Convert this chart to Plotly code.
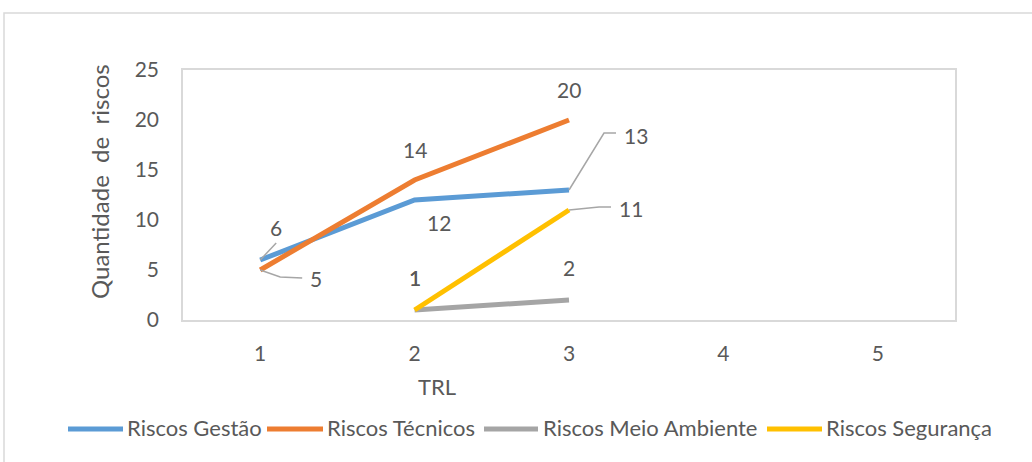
import plotly.graph_objects as go

categories = ["1", "2", "3", "4", "5"]
gestao = [6, 12, 13, None, None]
tecnicos = [5, 14, 20, None, None]
meio_ambiente = [None, 1, 2, None, None]
seguranca = [None, 1, 11, None, None]
y_ticks = [0, 5, 10, 15, 20, 25]

names = ["Riscos Gestão", "Riscos Técnicos", "Riscos Meio Ambiente", "Riscos Segurança"]
colors = ["#5B9BD5", "#ED7D31", "#A5A5A5", "#FFC000"]
series = [gestao, tecnicos, meio_ambiente, seguranca]

FONT = "Lato"
TXT = "#595959"
FS = 21
W, H = 1032, 462
L, R, T, B = 183, 955, 70, 320

fig = go.Figure()
for name, col, vals in zip(names, colors, series):
    fig.add_trace(go.Scatter(x=categories, y=vals, mode="lines", name=name,
                             line=dict(color=col, width=5), showlegend=False,
                             connectgaps=False))

# label placement per series / point index: (xshift, yshift, leader path or None)
label_style = {
    (0, 0): (16, 33, "M0,0 L16,17"),
    (0, 1): (24, -22, None),
    (0, 2): (67, 55, "M0,0 L35,57 L47,57"),
    (1, 0): (56, -8, "M0,0 L20,-7 L42,-8"),
    (1, 1): (0, 31, None),
    (1, 2): (0, 31, None),
    (2, 1): (0, 33, None),
    (2, 2): (0, 33, None),
    (3, 1): (0, 33, None),
    (3, 2): (62, 2, "M0,0 L30,3 L42,3"),
}

annotations = []
shapes = []
for si, vals in enumerate(series):
    for pi, v in enumerate(vals):
        if v is None:
            continue
        xs, ys, path = label_style.get((si, pi), (0, 30, None))
        annotations.append(dict(x=pi, y=v, xref="x", yref="y", text=str(v),
                                showarrow=False, xshift=xs, yshift=ys,
                                xanchor="center", yanchor="middle",
                                font=dict(family=FONT, size=FS, color=TXT)))
        if path:
            shapes.append(dict(type="path", xref="x", yref="y", xsizemode="pixel",
                               ysizemode="pixel", xanchor=pi, yanchor=v,
                               path=path, line=dict(color="#A6A6A6", width=1.5)))

def px_x(p):
    return (p - L) / (R - L)

def px_y(p):
    return (B - p) / (B - T)

# axis titles
annotations.append(dict(x=px_x(99), y=px_y(182), xref="paper", yref="paper",
                        xanchor="center", yanchor="middle",
                        text="Quantidade\u00a0 de\u00a0 riscos", textangle=-90, showarrow=False,
                        font=dict(family=FONT, size=24, color=TXT)))
annotations.append(dict(x=px_x(437), y=px_y(386), xref="paper", yref="paper",
                        xanchor="center", yanchor="middle",
                        text="TRL", showarrow=False,
                        font=dict(family=FONT, size=22, color=TXT)))

# manual legend
legend_items = [(68, 123, 125), (267, 323, 325), (484, 538, 541), (767, 822, 824)]
ly = 429
for (x0, x1, tx), name, col in zip(legend_items, names, colors):
    shapes.append(dict(type="line", xref="paper", yref="paper", x0=px_x(x0), x1=px_x(x1),
                       y0=px_y(ly), y1=px_y(ly), line=dict(color=col, width=5)))
    annotations.append(dict(x=px_x(tx), y=px_y(ly - 2), xref="paper", yref="paper", text=name,
                            xanchor="left", yanchor="middle", showarrow=False,
                            font=dict(family=FONT, size=22, color=TXT)))

# outer chart border
shapes.append(dict(type="rect", xref="paper", yref="paper", x0=px_x(4), x1=px_x(1045),
                   y0=px_y(475), y1=px_y(13), line=dict(color="#D9D9D9", width=1.5),
                   layer="below"))

fig.update_layout(
    width=W, height=H,
    margin=dict(l=L, r=W - R, t=T, b=H - B),
    paper_bgcolor="white", plot_bgcolor="white",
    font=dict(family=FONT, size=FS, color=TXT),
    annotations=annotations, shapes=shapes,
    xaxis=dict(type="category", categoryorder="array", categoryarray=categories,
               range=[-0.5, 4.5], showgrid=False, zeroline=False,
               showline=True, mirror=True, linecolor="#D9D9D9", linewidth=1.5,
               ticks="outside", ticklen=14, tickcolor="rgba(0,0,0,0)",
               tickfont=dict(family=FONT, size=FS, color=TXT)),
    yaxis=dict(range=[0, 25], tickvals=y_ticks, showgrid=False, zeroline=False,
               showline=True, mirror=True, linecolor="#D9D9D9", linewidth=1.5,
               ticks="outside", ticklen=18, tickcolor="rgba(0,0,0,0)",
               tickfont=dict(family=FONT, size=FS, color=TXT)),
)

fig.write_html("out.html")
